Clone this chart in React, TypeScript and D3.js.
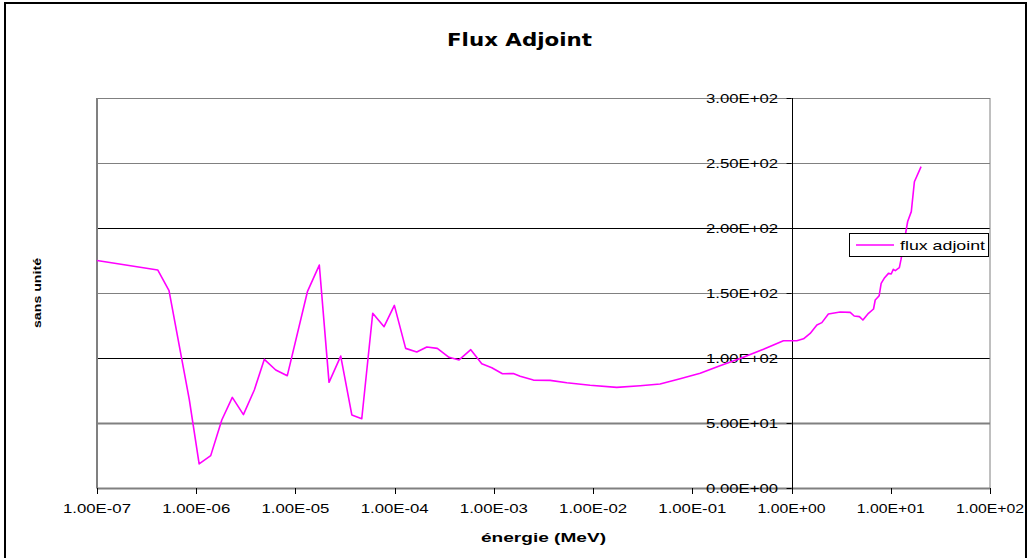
import React from "react";
import * as d3 from "d3";

const energies = [
  1e-7, 4.09e-7, 5.32e-7, 8.51e-7, 1.07e-6, 1.4e-6, 1.81e-6, 2.31e-6, 2.99e-6, 3.85e-6,
  4.86e-6, 6.33e-6, 8.28e-6, 1.32e-5, 1.74e-5, 2.18e-5, 2.86e-5, 3.7e-5, 4.66e-5, 6.01e-5,
  7.82e-5, 9.93e-5, 1.29e-4, 1.67e-4, 2.11e-4, 2.69e-4, 3.53e-4, 4.46e-4, 5.85e-4, 7.55e-4,
  9.53e-4, 1.22e-3, 1.57e-3, 1.84e-3, 2.5e-3, 3.69e-3, 5.43e-3, 9.33e-3, 1.73e-2, 2.98e-2,
  4.73e-2, 7.53e-2, 0.12, 0.19, 0.303, 0.521, 0.828, 1.13, 1.32, 1.54,
  1.8, 2.02, 2.35, 3.09, 3.9, 4.28, 4.83, 5.24, 5.96, 6.7,
  6.97, 7.64, 8.0, 8.58, 9.48, 10.1, 10.6, 11.1, 12.2, 12.7,
  14.8, 16.1, 17.3, 20.2,
];
const flux = [
  175, 167.7, 151.8, 68.2, 18.5, 24.9, 52.3, 69.7, 56.4, 75.4,
  99, 90.8, 86.4, 151, 171.5, 81.3, 101.5, 56.2, 53.3, 134.4,
  124.1, 140.5, 107.4, 104.6, 108.5, 107.4, 100.5, 98.5, 106.4, 95.6,
  92.5, 87.9, 88, 85.9, 83, 82.8, 81, 79, 77.4, 78.7,
  80, 84, 88.2, 94.1, 99.7, 106.7, 113.3, 113.3, 114.8, 118.9,
  125.4, 127.2, 133.8, 135.4, 135.1, 132.3, 131.8, 129.2, 134.4, 137.7,
  144.6, 147.9, 157.4, 161.3, 165.1, 164.6, 168.2, 167.2, 169.5, 176,
  205, 212.6, 235.6, 247.2,
];
const xTicks = [1e-7, 1e-6, 1e-5, 1e-4, 1e-3, 1e-2, 1e-1, 1e0, 1e1, 1e2];
const xTickLabels = [
  "1.00E-07", "1.00E-06", "1.00E-05", "1.00E-04", "1.00E-03",
  "1.00E-02", "1.00E-01", "1.00E+00", "1.00E+01", "1.00E+02",
];
const yTicks = [0, 50, 100, 150, 200, 250, 300];
const yTickLabels = ["0.00E+00", "5.00E+01", "1.00E+02", "1.50E+02", "2.00E+02", "2.50E+02", "3.00E+02"];
const titleText = "Flux Adjoint";
const xTitle = "énergie (MeV)";
const yTitle = "sans unité";
const seriesName = "flux adjoint";

const W = 1030;
const H = 558;
const L = 97;
const R = 990;
const T = 98;
const B = 488;

export default function App() {
  const x = d3.scaleLog().domain([1e-7, 1e2]).range([L, R]);
  const y = d3.scaleLinear().domain([0, 300]).range([B, T]);
  const pts = energies.map((e, i) => [e, flux[i]] as [number, number]);
  const line = d3
    .line<[number, number]>()
    .x((d) => x(d[0]))
    .y((d) => y(d[1]));
  const axisX = x(1);
  const font = "'Liberation Sans', Arial, sans-serif";

  const gridColor = (v: number) => (v === 100 || v === 200 ? "#000" : "#808080");

  return (
    <svg
      width={W}
      height={H}
      style={{ position: "absolute", left: 0, top: 0, display: "block", background: "#fff" }}
    >
      <rect x={0} y={0} width={W} height={H} fill="#fff" />
      {/* outer frame */}
      <rect x={5} y={3} width={1021} height={620} fill="none" stroke="#000" strokeWidth={2} />
      {/* title */}
      <text
        x={519.5}
        y={46}
        textAnchor="middle"
        fontFamily="'DejaVu Sans', sans-serif"
        fontWeight="bold"
        fontSize={18}
        textLength={145}
        lengthAdjust="spacingAndGlyphs"
        fill="#000"
      >
        {titleText}
      </text>
      {/* gridlines */}
      {yTicks.map((v) => (
        <line
          key={"g" + v}
          x1={L}
          x2={R}
          y1={Math.round(y(v)) + 0.5}
          y2={Math.round(y(v)) + 0.5}
          stroke={v === 0 ? "#808080" : gridColor(v)}
          strokeWidth={v === 0 || v === 50 ? 2 : 1}
        />
      ))}
      {/* plot area border */}
      <rect x={L} y={T + 0.5} width={R - L} height={B - T} fill="none" stroke="#808080" strokeWidth={1} />
      <line x1={L} x2={L} y1={T} y2={B} stroke="#808080" strokeWidth={2} />
      {/* x axis ticks */}
      {xTicks.map((t, i) => (
        <g key={"x" + i}>
          <line
            x1={Math.round(x(t)) + 0.5}
            x2={Math.round(x(t)) + 0.5}
            y1={B}
            y2={B + 6}
            stroke="#000"
            strokeWidth={1}
          />
          <text
            x={x(t)}
            y={513}
            textAnchor="middle"
            fontFamily={font}
            fontSize={13}
            textLength={68}
            lengthAdjust="spacingAndGlyphs"
            fill="#000"
          >
            {xTickLabels[i]}
          </text>
        </g>
      ))}
      {/* y axis at x = 1 */}
      <line
        x1={Math.round(axisX) + 0.5}
        x2={Math.round(axisX) + 0.5}
        y1={T}
        y2={B + 6}
        stroke="#000"
        strokeWidth={1}
      />
      {yTicks.map((v, i) => (
        <g key={"y" + v}>
          <line
            x1={axisX - 5}
            x2={axisX}
            y1={Math.round(y(v)) + 0.5}
            y2={Math.round(y(v)) + 0.5}
            stroke="#000"
            strokeWidth={1}
          />
          <text
            x={778}
            y={y(v) + 4.5}
            textAnchor="end"
            fontFamily={font}
            fontSize={13}
            textLength={72}
            lengthAdjust="spacingAndGlyphs"
            fill="#000"
          >
            {yTickLabels[i]}
          </text>
        </g>
      ))}
      {/* series */}
      <path d={line(pts) || ""} fill="none" stroke="#FF00FF" strokeWidth={1.6} strokeLinejoin="round" />
      {/* legend */}
      <rect x={849.5} y={233.5} width={139} height={23} fill="#fff" stroke="#000" strokeWidth={1} />
      <line x1={856} x2={894} y1={245} y2={245} stroke="#FF00FF" strokeWidth={1.6} />
      <text
        x={900}
        y={249.5}
        fontFamily={font}
        fontSize={13}
        textLength={85}
        lengthAdjust="spacingAndGlyphs"
        fill="#000"
      >
        {seriesName}
      </text>
      {/* axis titles */}
      <text
        x={543.5}
        y={541.5}
        textAnchor="middle"
        fontFamily={font}
        fontWeight="bold"
        fontSize={13}
        textLength={125}
        lengthAdjust="spacingAndGlyphs"
        fill="#000"
      >
        {xTitle}
      </text>
      <text
        transform="translate(41,293) rotate(-90)"
        textAnchor="middle"
        fontFamily={font}
        fontWeight="bold"
        fontSize={11}
        textLength={70}
        lengthAdjust="spacingAndGlyphs"
        fill="#000"
      >
        {yTitle}
      </text>
    </svg>
  );
}
